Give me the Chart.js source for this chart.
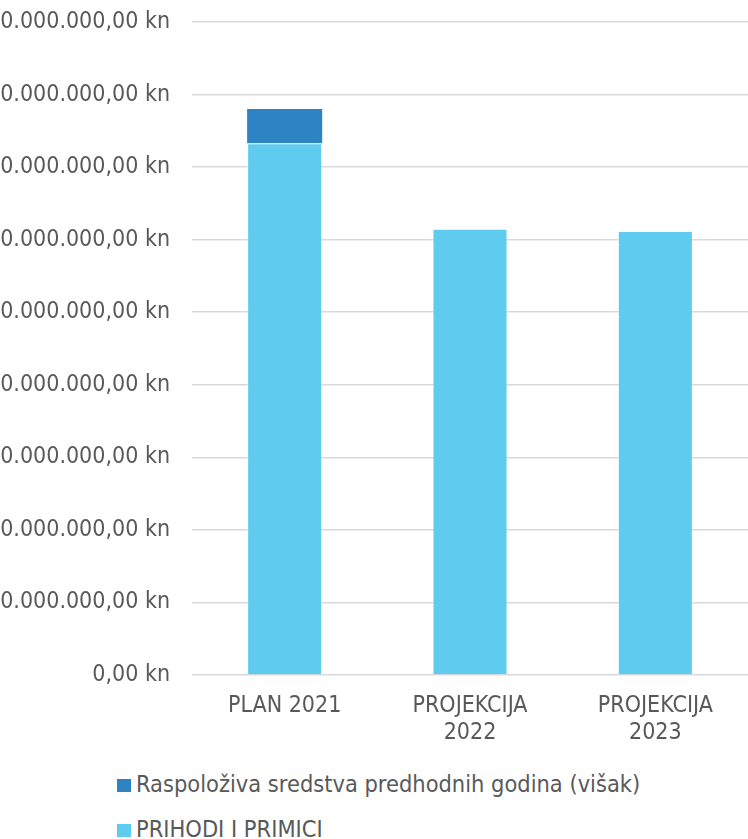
<!DOCTYPE html>
<html>
<head>
<meta charset="utf-8">
<script src="https://cdn.jsdelivr.net/npm/chart.js@4.4.0/dist/chart.umd.min.js"></script>
<style>
  html, body { margin: 0; padding: 0; background: #fff; overflow: hidden; }
  #wrap { position: relative; width: 748px; height: 839px; overflow: hidden; }
  #box { position: absolute; left: -20px; top: 0; width: 768px; height: 760px; }
  #legend { position: absolute; left: 117px; top: 770px; font-family: 'DejaVu Sans Condensed', 'DejaVu Sans', sans-serif; font-size: 23.4px; color: #595959; }
  #legend div { height: 45px; line-height: 28px; white-space: nowrap; }
  #legend span { display: inline-block; width: 14px; height: 13px; margin-right: 5px; vertical-align: 0px; }
</style>
</head>
<body>
<div id="wrap">
  <div id="box"><canvas id="chart"></canvas></div>
  <div id="legend"></div>
</div>
<script>
var kategorije = [['PLAN 2021'], ['PROJEKCIJA', '2022'], ['PROJEKCIJA', '2023']];
var prihodi = [73300000, 61500000, 61200000];
var visak = [4700000, 0, 0];
var nazivi = ['PRIHODI I PRIMICI', 'Raspoloživa sredstva predhodnih godina (višak)'];
var boje = ['#5fcbee', '#2e83c3'];

var font = "'DejaVu Sans Condensed', 'DejaVu Sans', sans-serif";

function kune(v) {
    var s = v.toFixed(2).split('.');
    return s[0].replace(/\B(?=(\d{3})+(?!\d))/g, '.') + ',' + s[1] + ' kn';
}

var chart = new Chart(document.getElementById('chart'), {
    type: 'bar',
    data: {
        labels: kategorije,
        datasets: [{
            label: nazivi[0],
            data: prihodi,
            backgroundColor: boje[0],
            borderColor: 'rgba(255,255,255,0.35)',
            borderWidth: 1,
            barPercentage: 0.405,
            categoryPercentage: 1
        }, {
            label: nazivi[1],
            data: visak,
            backgroundColor: boje[1],
            borderWidth: 0,
            barPercentage: 0.405,
            categoryPercentage: 1
        }]
    },
    options: {
        responsive: true,
        maintainAspectRatio: false,
        animation: false,
        layout: { padding: { top: 22, right: 0, bottom: 0, left: 0 } },
        plugins: {
            legend: { display: false },
            tooltip: { enabled: false }
        },
        scales: {
            x: {
                stacked: true,
                grid: { display: false },
                border: { display: false },
                ticks: {
                    color: '#595959',
                    font: { family: font, size: 23 },
                    padding: 9,
                    maxRotation: 0
                },
                afterFit: function (s) { s.height = 85; }
            },
            y: {
                stacked: true,
                min: 0,
                max: 90000000,
                grid: { color: '#d9d9d9', lineWidth: 1.5, drawTicks: false },
                border: { display: false },
                ticks: {
                    stepSize: 10000000,
                    color: '#595959',
                    font: { family: font, size: 23 },
                    padding: 22,
                    callback: function (v) { return kune(v); }
                },
                afterFit: function (s) {
                    s.width = 212;
                    s.paddingTop = 0;
                    s.paddingBottom = 0;
                }
            }
        }
    }
});

// legenda kao u Excelu, gornja serija prva
var leg = document.getElementById('legend');
chart.data.datasets.slice().reverse().forEach(function (d) {
    var row = document.createElement('div');
    var sw = document.createElement('span');
    sw.style.background = d.backgroundColor;
    row.appendChild(sw);
    row.appendChild(document.createTextNode(d.label));
    leg.appendChild(row);
});
</script>
</body>
</html>
